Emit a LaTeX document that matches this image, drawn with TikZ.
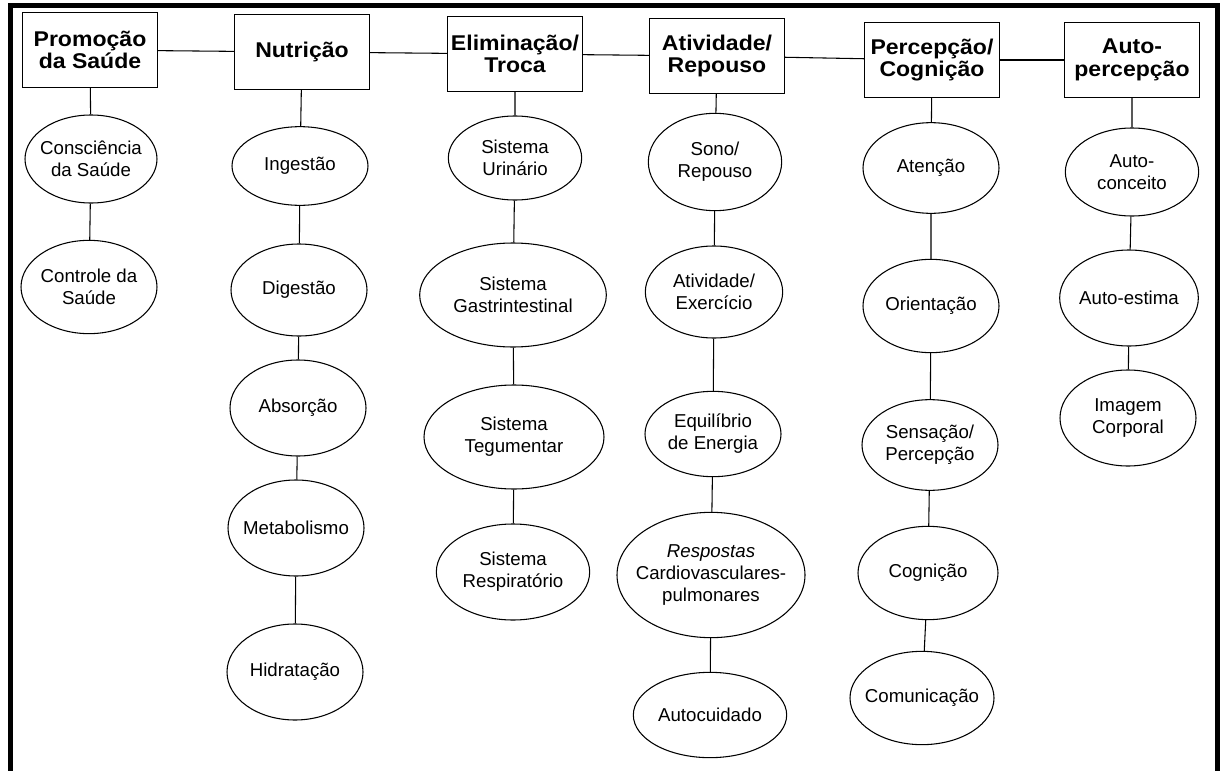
\documentclass[tikz,border=0pt]{standalone}
\usepackage{fontspec}
\setmainfont{Liberation Sans}
\newfontfamily\headfont{Liberation Sans}[FakeStretch=1.08]
\usetikzlibrary{shapes.geometric, positioning}

\begin{document}
\begin{tikzpicture}[x=0.75pt, y=-0.75pt,
    dombox/.style={draw, line width=1.1pt, minimum width=101pt, minimum height=56pt, align=center, inner sep=2pt, font=\headfont\bfseries\fontsize{16}{17}\selectfont},
    classe/.style={ellipse, draw, line width=0.8pt, align=center, inner xsep=-12pt, inner ysep=0pt, font=\fontsize{14}{16.5}\selectfont},
    link/.style={line width=0.8pt}]
    \useasboundingbox (0,0) rectangle (1222,771);

    % frame, open at the bottom
    \draw[line width=3.75pt] (10,771) -- (10,5) -- (1217,5) -- (1217,771);

    % Domains
    \node[dombox] (promo) at (90,50)  {Promoção\\da Saúde};
    \node[dombox] (nutri) at (302,52) {Nutrição};
    \node[dombox] (elim)  at (515,54) {Eliminação/\\Troca};
    \node[dombox] (ativ)  at (717,56) {Atividade/\\Repouso};
    \node[dombox] (perc)  at (932,60) {Percepção/\\Cognição};
    \node[dombox] (autop) at (1132,60) {Auto-\\percepção};

    \draw[link] (promo) -- (nutri);
    \draw[link] (nutri) -- (elim);
    \draw[link] (elim) -- (ativ);
    \draw[link] (ativ) -- (perc);
    \draw[link] (perc) -- (autop);

    % Promoção da Saúde
    \node[classe, minimum width=99pt, minimum height=66pt] (consc) at (91,159) {Consciência\\da Saúde};
    \node[classe, minimum width=102pt, minimum height=70pt] (contr) at (89,287) {Controle da\\Saúde};
    \draw[link] (promo) -- (consc) -- (contr);

    % Nutrição
    \node[classe, minimum width=102pt, minimum height=59pt] (inges) at (300,166) {Ingestão};
    \node[classe, minimum width=102pt, minimum height=69pt] (diges) at (299,290) {Digestão};
    \node[classe, minimum width=102pt, minimum height=72pt] (absor) at (298,408) {Absorção};
    \node[classe, minimum width=102pt, minimum height=72pt] (metab) at (296,528) {Metabolismo};
    \node[classe, minimum width=102pt, minimum height=72pt] (hidra) at (295,672) {Hidratação};
    \draw[link] (nutri) -- (inges) -- (diges) -- (absor) -- (metab) -- (hidra);

    % Eliminação/Troca
    \node[classe, minimum width=100pt, minimum height=63pt] (urin)  at (515,158) {Sistema\\Urinário};
    \node[classe, minimum width=140pt, minimum height=78pt] (gastr) at (513,295) {Sistema\\Gastrintestinal};
    \node[classe, minimum width=135pt, minimum height=78pt] (tegum) at (514,437) {Sistema\\Tegumentar};
    \node[classe, minimum width=115pt, minimum height=72pt] (resp)  at (513,572) {Sistema\\Respiratório};
    \draw[link] (elim) -- (urin) -- (gastr) -- (tegum) -- (resp);

    % Atividade/Repouso
    \node[classe, minimum width=100pt, minimum height=73pt] (sono)   at (715,162) {Sono/\\Repouso};
    \node[classe, minimum width=103pt, minimum height=69pt] (exerc)  at (714,292) {Atividade/\\Exercício};
    \node[classe, minimum width=102pt, minimum height=64pt] (equil)  at (713,434) {Equilíbrio\\de Energia};
    \node[classe, minimum width=141pt, minimum height=94pt] (cardio) at (711,575) {\itshape Respostas\\Cardiovasculares-\\pulmonares};
    \node[classe, minimum width=115pt, minimum height=64pt] (autoc)  at (710,715) {Autocuidado};
    \draw[link] (ativ) -- (sono) -- (exerc) -- (equil) -- (cardio) -- (autoc);

    % Percepção/Cognição
    \node[classe, minimum width=102pt, minimum height=68pt] (atenc) at (931,168) {Atenção};
    \node[classe, minimum width=102pt, minimum height=70pt] (orien) at (931,306) {Orientação};
    \node[classe, minimum width=102pt, minimum height=68pt] (sensa) at (930,445) {Sensação/\\Percepção};
    \node[classe, minimum width=105pt, minimum height=70pt] (cogni) at (928,573) {Cognição};
    \node[classe, minimum width=108pt, minimum height=70pt] (comun) at (922,698) {Comunicação};
    \draw[link] (perc) -- (atenc) -- (orien) -- (sensa) -- (cogni) -- (comun);

    % Auto-percepção
    \node[classe, minimum width=100pt, minimum height=66pt] (autoco) at (1132,172) {Auto-\\conceito};
    \node[classe, minimum width=104pt, minimum height=72pt] (autoes) at (1129,298) {Auto-estima};
    \node[classe, minimum width=102pt, minimum height=72pt] (imag)   at (1128,418) {Imagem\\Corporal};
    \draw[link] (autop) -- (autoco) -- (autoes) -- (imag);
\end{tikzpicture}
\end{document}
